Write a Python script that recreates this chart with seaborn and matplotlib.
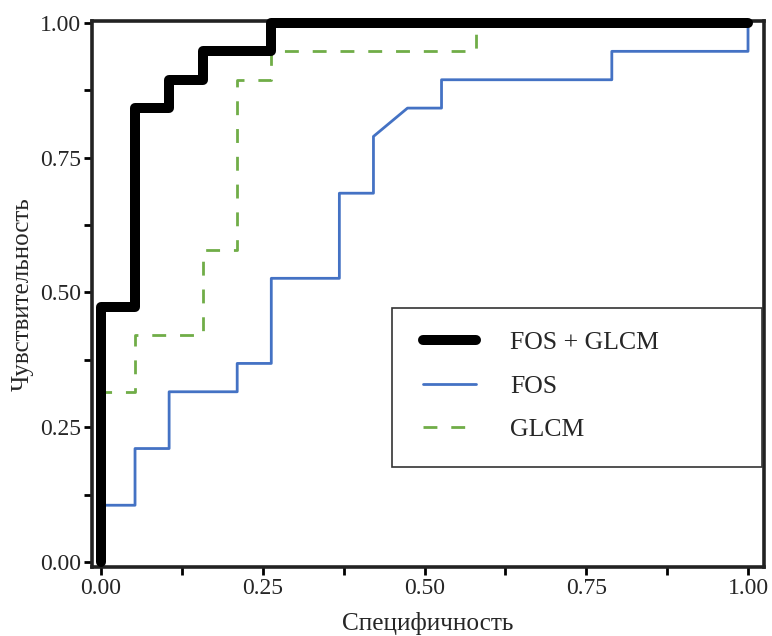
import matplotlib
matplotlib.use("Agg")
import matplotlib.pyplot as plt
import seaborn as sns
import pandas as pd
from matplotlib.ticker import MultipleLocator
from matplotlib.patches import Rectangle

# ROC curve vertices (1 - specificity, sensitivity)
combo_fpr = [0.0, 0.0, 0.0526, 0.0526, 0.1053, 0.1053, 0.1579, 0.1579, 0.2632, 0.2632, 1.0]
combo_tpr = [0.0, 0.4737, 0.4737, 0.8421, 0.8421, 0.8947, 0.8947, 0.9474, 0.9474, 1.0, 1.0]

fos_fpr = [0.0, 0.0, 0.0526, 0.0526, 0.1053, 0.1053, 0.2105, 0.2105, 0.2632, 0.2632,
           0.3684, 0.3684, 0.4211, 0.4211, 0.4737, 0.5263, 0.5263, 0.7895, 0.7895, 1.0, 1.0]
fos_tpr = [0.0, 0.1053, 0.1053, 0.2105, 0.2105, 0.3158, 0.3158, 0.3684, 0.3684, 0.5263,
           0.5263, 0.6842, 0.6842, 0.7895, 0.8421, 0.8421, 0.8947, 0.8947, 0.9474, 0.9474, 1.0]

glcm_fpr = [0.0, 0.0, 0.0526, 0.0526, 0.1579, 0.1579, 0.2105, 0.2105, 0.2632, 0.2632, 0.5789, 0.5789, 1.0]
glcm_tpr = [0.0, 0.3158, 0.3158, 0.4211, 0.4211, 0.5789, 0.5789, 0.8947, 0.8947, 0.9474, 0.9474, 1.0, 1.0]

labels = ["FOS + GLCM", "FOS", "GLCM"]
x_ticks = [0.0, 0.25, 0.5, 0.75, 1.0]
y_ticks = [0.0, 0.25, 0.5, 0.75, 1.0]

sns.set_style("ticks")
plt.rcParams["font.family"] = ["Liberation Serif", "DejaVu Serif"]

fig = plt.figure(figsize=(7.72, 6.36), dpi=100)
ax = fig.add_axes([92 / 772, 1 - 567 / 636, (764 - 92) / 772, (567 - 21) / 636])

df_fos = pd.DataFrame({"x": fos_fpr, "y": fos_tpr})
df_glcm = pd.DataFrame({"x": glcm_fpr, "y": glcm_tpr})
df_combo = pd.DataFrame({"x": combo_fpr, "y": combo_tpr})

sns.lineplot(data=df_fos, x="x", y="y", sort=False, estimator=None, ax=ax,
             color="#4472C4", linewidth=2.0, label=labels[1], zorder=3)
sns.lineplot(data=df_glcm, x="x", y="y", sort=False, estimator=None, ax=ax,
             color="#70AD47", linewidth=2.0, label=labels[2], zorder=2)
sns.lineplot(data=df_combo, x="x", y="y", sort=False, estimator=None, ax=ax,
             color="black", linewidth=7.2, label=labels[0], zorder=4)

lines = ax.get_lines()
lines[1].set_dashes((5, 5))
lines[2].set_solid_capstyle("round")
lines[2].set_solid_joinstyle("round")
for ln in lines:
    ln.set_clip_on(False)

ax.set_xlim(-0.0139, 1.0247)
ax.set_ylim(-0.0093, 1.0037)
ax.set_xticks(x_ticks)
ax.set_yticks(y_ticks)
ax.set_xticklabels([f"{v:.2f}" for v in x_ticks])
ax.set_yticklabels([f"{v:.2f}" for v in y_ticks])
ax.xaxis.set_minor_locator(MultipleLocator(0.125))
ax.yaxis.set_minor_locator(MultipleLocator(0.125))
ax.tick_params(axis="both", which="both", direction="out", length=6, width=2,
               color="black", labelsize=17, pad=2)

for side in ["left", "bottom", "top", "right"]:
    ax.spines[side].set_visible(True)
    ax.spines[side].set_linewidth(2.6)
    ax.spines[side].set_color("#222222")

ax.set_xlabel("Специфичность", fontsize=18.2, labelpad=9)
ax.set_ylabel("Чувствительность", fontsize=18, labelpad=4)

# legend frame drawn as a separate box
frame = Rectangle((0.4464, 0.1832), 0.997 - 0.4464, 0.4744 - 0.1832,
                  transform=ax.transAxes, facecolor="white", edgecolor="#333333",
                  linewidth=1.2, zorder=5)
ax.add_patch(frame)

handles, labs = ax.get_legend_handles_labels()
order = [labs.index(l) for l in labels]
leg = ax.legend([handles[i] for i in order], [labs[i] for i in order],
                loc="upper left", bbox_to_anchor=(0.4925, 0.4315),
                fontsize=18.5, frameon=False,
                borderpad=0, labelspacing=0.8, handlelength=2.05,
                handletextpad=1.35, borderaxespad=0)
leg.set_zorder(6)

fig.savefig("out.png", dpi=100)
